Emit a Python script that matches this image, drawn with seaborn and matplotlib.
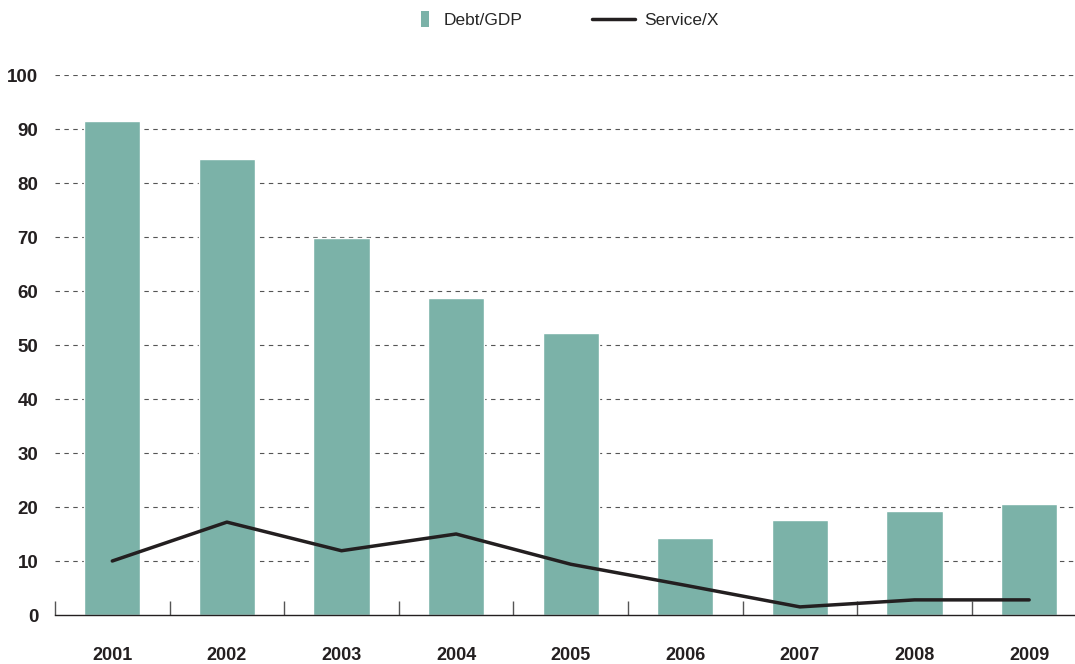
import numpy as np
import pandas as pd
import seaborn as sns
import matplotlib.pyplot as plt
from matplotlib.ticker import FixedLocator
from matplotlib.patches import Rectangle
from matplotlib.legend_handler import HandlerPatch

years = ["2001", "2002", "2003", "2004", "2005", "2006", "2007", "2008", "2009"]
debt_gdp = [91.5, 84.4, 69.8, 58.7, 52.2, 14.3, 17.6, 19.3, 20.6]
service_x = [10.0, 17.2, 11.9, 15.0, 9.4, 5.5, 1.5, 2.8, 2.8]

bar_color = "#7bb2a8"
line_color = "#231f20"

df = pd.DataFrame({"year": years, "debt": debt_gdp, "service": service_x})
df["pos"] = np.arange(len(df))

sns.set_style("white")
plt.rcParams["font.family"] = ["Liberation Sans", "DejaVu Sans"]

fig = plt.figure(figsize=(10.75, 6.64), dpi=100)
ax = fig.add_axes([55 / 1075, 49 / 664, 1 - 55 / 1075, 540 / 664])

sns.barplot(data=df, x="pos", y="debt", color=bar_color, width=0.49,
            saturation=1, ax=ax, native_scale=True)
sns.lineplot(data=df, x="pos", y="service", color=line_color, linewidth=2.5,
             ax=ax, label="Service/X")

ax.set_xlim(-0.5, 8.4)
ax.set_ylim(0, 100)
ax.set_yticks(range(0, 101, 10))
ax.set_xticks(df["pos"])
ax.set_xticklabels(years)
ax.xaxis.set_minor_locator(FixedLocator(np.arange(-0.5, 8.0, 1.0)))

for y in range(10, 101, 10):
    ax.axhline(y, color="#555555", linewidth=0.8, linestyle=(0, (4, 4)), zorder=0)

for s in ["top", "right", "left"]:
    ax.spines[s].set_visible(False)
ax.spines["bottom"].set_color("#231f20")
ax.spines["bottom"].set_linewidth(1.0)

ax.tick_params(axis="x", which="major", bottom=True, length=0, pad=23, labelsize=13)
ax.tick_params(axis="x", which="minor", bottom=True, direction="in", length=10,
               width=1, color="#555555")
ax.tick_params(axis="y", left=False, length=0, pad=12, labelsize=13.5)
for lab in ax.get_xticklabels() + ax.get_yticklabels():
    lab.set_fontweight("bold")
    lab.set_color("#231f20")

ax.set_xlabel("")
ax.set_ylabel("")


def narrow_patch(legend, orig_handle, xdescent, ydescent, width, height, fontsize):
    w = 6
    h = 12
    return Rectangle((-xdescent + width - w - 4, -ydescent + height / 2 - h / 2), w, h)


bar_proxy = Rectangle((0, 0), 1, 1, facecolor=bar_color, edgecolor="none")
line_handle = ax.get_legend_handles_labels()[0][0]
ax.legend([bar_proxy, line_handle], ["Debt/GDP", "Service/X"],
          loc="upper center", bbox_to_anchor=(0.516, 1.004),
          bbox_transform=fig.transFigure, ncol=2, frameon=False, fontsize=12.5,
          handlelength=2.5, columnspacing=4.0, handletextpad=0.5,
          handler_map={bar_proxy: HandlerPatch(patch_func=narrow_patch)})

plt.savefig("out.png", dpi=100)
